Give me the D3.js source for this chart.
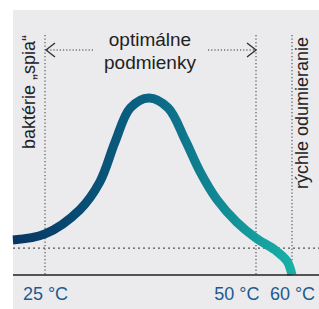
<!DOCTYPE html>
<html>
<head>
<meta charset="utf-8">
<script src="https://cdn.jsdelivr.net/npm/d3@7"></script>
<style>
  html, body { margin: 0; padding: 0; background: #fff; }
  svg { display: block; font-family: "Liberation Sans", Arial, sans-serif; }
</style>
</head>
<body>
<div id="main"></div>
<script>
!(function () {
  'use strict';

  // data: temperature (°C) vs. growth activity (arbitrary units)
  const temps  = [21.2, 25, 29.1, 31.5, 33.3, 35.1, 37.3, 39.6, 41.6, 43.4, 45.4, 47.7, 50, 55.3, 58.6, 60];
  const growth = [14.6, 17.1, 27.1, 38.8, 55.4, 69.6, 73.8, 69.6, 56.3, 42.9, 31.3, 22.1, 15.4, 10.4, 5.8, 0];
  const tickTemps = [25, 50, 60];
  const baseline = 11.2;
  const topLabel = ['optimálne', 'podmienky'];
  const leftLabel = 'baktérie „spia“';
  const rightLabel = 'rýchle odumieranie';

  const width = 319, height = 309;

  const svg = d3.select('#main').append('svg')
    .attr('width', width)
    .attr('height', height);

  // panel
  svg.append('rect')
    .attr('x', 13).attr('y', 10)
    .attr('width', width - 13).attr('height', height - 10)
    .attr('fill', '#ebebee');

  // schematic (non-linear) temperature scale
  const x = d3.scaleLinear()
    .domain([25, 50, 60])
    .range([45, 256, 292]);

  const y = d3.scaleLinear()
    .domain([0, 100])
    .range([275, 35]);

  // vertical dotted guides
  svg.append('g')
    .selectAll('line')
    .data(tickTemps)
    .join('line')
    .attr('x1', d => x(d)).attr('x2', d => x(d))
    .attr('y1', y(100)).attr('y2', y(0))
    .attr('stroke', '#555')
    .attr('stroke-width', 1.2)
    .attr('stroke-dasharray', '1.2,2.3');

  // horizontal dotted baseline
  svg.append('line')
    .attr('x1', 13).attr('x2', width)
    .attr('y1', y(baseline)).attr('y2', y(baseline))
    .attr('stroke', '#555')
    .attr('stroke-width', 1.2)
    .attr('stroke-dasharray', '2,3');

  // gradient for the curve
  const grad = svg.append('defs').append('linearGradient')
    .attr('id', 'curveGrad')
    .attr('gradientUnits', 'userSpaceOnUse')
    .attr('x1', x(temps[0])).attr('x2', x(60))
    .attr('y1', 0).attr('y2', 0);
  grad.append('stop').attr('offset', '0%').attr('stop-color', '#073564');
  grad.append('stop').attr('offset', '48%').attr('stop-color', '#0a6383');
  grad.append('stop').attr('offset', '100%').attr('stop-color', '#19b0a6');

  const pts = temps.map((t, i) => [t, growth[i]]);
  const line = d3.line()
    .x(d => x(d[0]))
    .y(d => y(d[1]))
    .curve(d3.curveCatmullRom.alpha(0.5));

  svg.append('path')
    .datum(pts)
    .attr('d', line)
    .attr('fill', 'none')
    .attr('stroke', 'url(#curveGrad)')
    .attr('stroke-width', 9);

  // x axis
  const axis = svg.append('g')
    .attr('transform', 'translate(0,' + y(0) + ')')
    .call(d3.axisBottom(x)
      .tickValues(tickTemps)
      .tickSize(0)
      .tickPadding(9)
      .tickFormat(d => d + ' °C'));
  axis.select('.domain').remove();
  axis.append('line')
    .attr('x1', 13).attr('x2', width)
    .attr('stroke', '#222')
    .attr('stroke-width', 1.5);
  axis.selectAll('.tick text')
    .attr('font-size', 18)
    .attr('font-family', '"Liberation Sans", Arial, sans-serif')
    .attr('fill', '#1d5a8e')
    .attr('dy', '0.9em')
    .attr('text-anchor', d => d === 50 ? 'end' : 'middle')
    .attr('dx', d => d === 50 ? 3 : 0);

  // top label
  svg.append('text')
    .attr('x', 150).attr('y', 46)
    .attr('text-anchor', 'middle')
    .attr('font-size', 19)
    .attr('fill', '#222')
    .selectAll('tspan')
    .data(topLabel)
    .join('tspan')
    .attr('x', 150)
    .attr('dy', (d, i) => i ? 23 : 0)
    .text(d => d);

  // arrows
  const arrowY = 50;
  const ag = svg.append('g')
    .attr('stroke', '#333')
    .attr('fill', 'none');
  ag.append('line')
    .attr('x1', x(25) + 2).attr('x2', 93)
    .attr('y1', arrowY).attr('y2', arrowY)
    .attr('stroke-width', 1.2)
    .attr('stroke-dasharray', '1.2,2');
  ag.append('line')
    .attr('x1', 208).attr('x2', x(50) - 1)
    .attr('y1', arrowY).attr('y2', arrowY)
    .attr('stroke-width', 1.2)
    .attr('stroke-dasharray', '1.2,2');
  ag.append('path')
    .attr('d', 'M' + (x(25) + 10) + ',' + (arrowY - 7) + 'L' + (x(25) + 1) + ',' + arrowY + 'L' + (x(25) + 10) + ',' + (arrowY + 7))
    .attr('stroke-width', 1.4);
  ag.append('path')
    .attr('d', 'M' + (x(50) - 9) + ',' + (arrowY - 7) + 'L' + (x(50)) + ',' + arrowY + 'L' + (x(50) - 9) + ',' + (arrowY + 7))
    .attr('stroke-width', 1.4);

  // rotated side labels
  svg.append('text')
    .attr('transform', 'translate(35,35) rotate(-90)')
    .attr('text-anchor', 'end')
    .attr('font-size', 18)
    .attr('fill', '#222')
    .text(leftLabel);

  svg.append('text')
    .attr('transform', 'translate(308,37) rotate(-90)')
    .attr('text-anchor', 'end')
    .attr('font-size', 18)
    .attr('fill', '#222')
    .text(rightLabel);
}());
</script>
</body>
</html>
